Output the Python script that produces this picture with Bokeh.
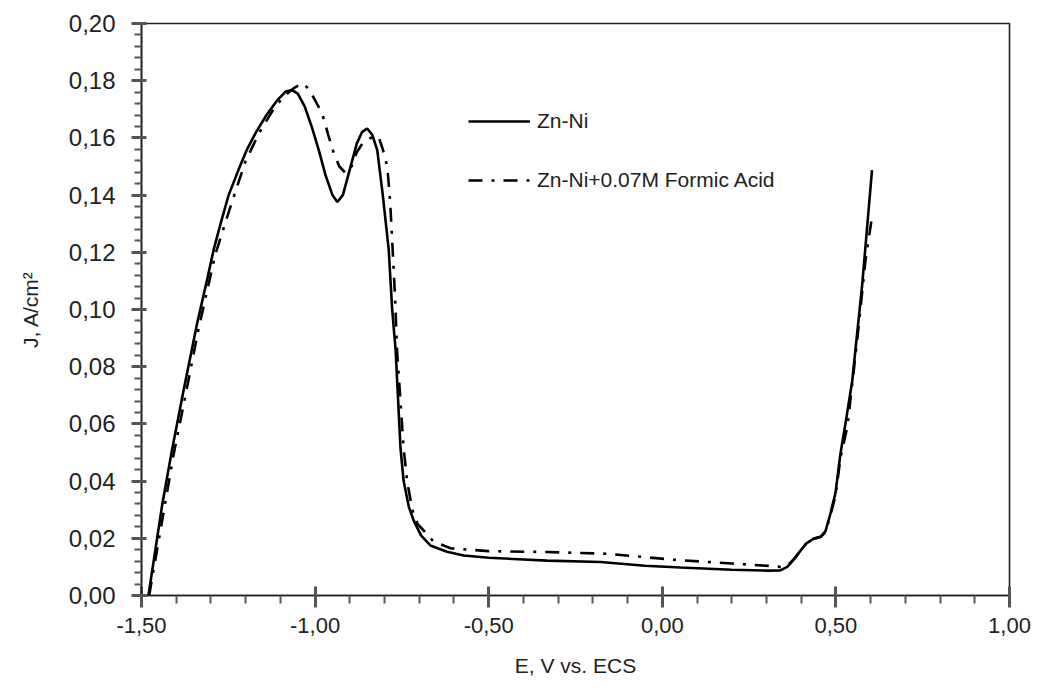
from bokeh.plotting import figure
from bokeh.models import (ColumnDataSource, Legend, LegendItem, Range1d,
                          CustomJSTickFormatter, SingleIntervalTicker)
from bokeh.embed import file_html
from bokeh.resources import INLINE

# ---- data ----
zn_ni_E = [-1.480, -1.460, -1.440, -1.412, -1.380, -1.340, -1.310, -1.292, -1.270,
           -1.249, -1.220, -1.196, -1.170, -1.140, -1.110, -1.085, -1.066, -1.050,
           -1.030, -1.010, -0.990, -0.970, -0.950, -0.936, -0.920, -0.900, -0.880,
           -0.865, -0.850, -0.835, -0.821, -0.805, -0.788, -0.778, -0.768, -0.754,
           -0.745, -0.730, -0.716, -0.695, -0.668, -0.620, -0.572, -0.500, -0.400,
           -0.331, -0.178, -0.050, 0.052, 0.200, 0.302, 0.340, 0.360, 0.380, 0.398,
           0.415, 0.435, 0.456, 0.470, 0.484, 0.499, 0.513, 0.530, 0.547, 0.576, 0.604]
zn_ni_J = [0.000, 0.016, 0.032, 0.051, 0.071, 0.095, 0.111, 0.121, 0.131,
           0.140, 0.149, 0.156, 0.162, 0.168, 0.173, 0.1762, 0.1767, 0.1755,
           0.171, 0.164, 0.156, 0.147, 0.140, 0.1376, 0.140, 0.149, 0.158,
           0.162, 0.1633, 0.161, 0.1557, 0.140, 0.121, 0.100, 0.0857, 0.0514,
           0.040, 0.031, 0.0262, 0.021, 0.0175, 0.0153, 0.0140, 0.0132, 0.0126,
           0.0122, 0.0117, 0.0104, 0.0098, 0.0090, 0.0087, 0.0088, 0.0100, 0.0128, 0.0157,
           0.0182, 0.0198, 0.0205, 0.0225, 0.0285, 0.036, 0.0495, 0.062, 0.075, 0.109, 0.1487]

formic_E = [-1.478, -1.458, -1.435, -1.408, -1.375, -1.336, -1.288, -1.245, -1.200,
            -1.160, -1.120, -1.090, -1.060, -1.045, -1.033, -1.015, -0.995, -0.980,
            -0.962, -0.946, -0.930, -0.912, -0.895, -0.880, -0.864, -0.840, -0.817,
            -0.805, -0.792, -0.784, -0.778, -0.770, -0.764, -0.745, -0.735, -0.720,
            -0.705, -0.687, -0.660, -0.610, -0.500, -0.331, -0.159, 0.033, 0.200,
            0.312, 0.340, 0.360, 0.380, 0.398, 0.415, 0.435, 0.456, 0.470, 0.484,
            0.499, 0.513, 0.533, 0.561, 0.585, 0.604]
formic_J = [0.000, 0.014, 0.030, 0.049, 0.069, 0.093, 0.119, 0.1355, 0.152,
            0.162, 0.170, 0.1745, 0.1775, 0.1785, 0.179, 0.1765, 0.172, 0.1686,
            0.161, 0.1546, 0.150, 0.1477, 0.150, 0.155, 0.158, 0.160, 0.1604,
            0.156, 0.1499, 0.138, 0.1242, 0.105, 0.0857, 0.0514, 0.040, 0.030,
            0.025, 0.0227, 0.019, 0.0165, 0.0155, 0.0152, 0.0146, 0.0125, 0.0112,
            0.0103, 0.0100, 0.0105, 0.0128, 0.0157, 0.0182, 0.0198, 0.0205, 0.0222, 0.028,
            0.035, 0.048, 0.059, 0.089, 0.117, 0.1324]

x_tick_step = 0.5
y_tick_step = 0.02

series_labels = ["Zn-Ni", "Zn-Ni+0.07M Formic Acid"]

FONT = "Liberation Sans"
TICK_COLOR = "#555555"

p = figure(width=1043, height=695, output_backend="svg", toolbar_location=None,
           x_range=Range1d(-1.5, 1.0), y_range=Range1d(0.0, 0.2),
           min_border_left=141, min_border_right=34, min_border_top=23,
           min_border_bottom=100)
p.background_fill_color = "white"
p.border_fill_color = "white"
p.outline_line_color = "#222222"
p.outline_line_width = 1.6
p.xgrid.visible = False
p.ygrid.visible = False

src1 = ColumnDataSource(dict(x=zn_ni_E, y=zn_ni_J))
src2 = ColumnDataSource(dict(x=formic_E, y=formic_J))
r2 = p.line("x", "y", source=src2, line_color="black", line_width=2.6,
            line_dash="14 9 3 9")
r1 = p.line("x", "y", source=src1, line_color="black", line_width=2.6)

fmt = CustomJSTickFormatter(code="return tick.toFixed(2).replace('.', ',').replace('-0,00','0,00');")

p.xaxis.ticker = SingleIntervalTicker(interval=x_tick_step, num_minor_ticks=5)
p.yaxis.ticker = SingleIntervalTicker(interval=y_tick_step, num_minor_ticks=5)
p.xaxis.formatter = fmt
p.yaxis.formatter = fmt

p.axis.axis_line_color = "#222222"
p.axis.axis_line_width = 1.6
p.axis.major_tick_line_color = TICK_COLOR
p.axis.minor_tick_line_color = TICK_COLOR
p.axis.major_tick_line_width = 3
p.axis.minor_tick_line_width = 2
p.axis.major_label_text_font = FONT
p.axis.major_label_text_color = "#222222"
p.axis.axis_label_text_font = FONT
p.axis.axis_label_text_font_style = "normal"
p.axis.axis_label_text_color = "#222222"

p.xaxis.major_label_text_font_size = "22px"
p.yaxis.major_label_text_font_size = "24px"
p.xaxis.axis_label_text_font_size = "21px"
p.yaxis.axis_label_text_font_size = "21px"

p.xaxis.major_tick_in = 9
p.xaxis.major_tick_out = 12
p.xaxis.minor_tick_in = 0
p.xaxis.minor_tick_out = 8
p.xaxis.major_label_standoff = 10
p.xaxis.axis_label = "E, V vs. ECS"
p.xaxis.axis_label_standoff = 18

p.yaxis.major_tick_in = 5
p.yaxis.major_tick_out = 10
p.yaxis.minor_tick_in = 0
p.yaxis.minor_tick_out = 7
p.yaxis.major_label_standoff = 16
p.yaxis.axis_label = "J, A/cm²"
p.yaxis.axis_label_standoff = 24

legend = Legend(items=[LegendItem(label=series_labels[0], renderers=[r1]),
                       LegendItem(label=series_labels[1], renderers=[r2])],
                location=(327, 403), orientation="vertical",
                glyph_width=62, glyph_height=20, label_height=20,
                label_standoff=7, spacing=35, padding=0, margin=0,
                label_text_font=FONT, label_text_font_size="21px",
                label_text_color="#222222",
                border_line_alpha=0, background_fill_alpha=0)
p.add_layout(legend, "center")

open("out.html", "w").write(file_html(p, INLINE))
